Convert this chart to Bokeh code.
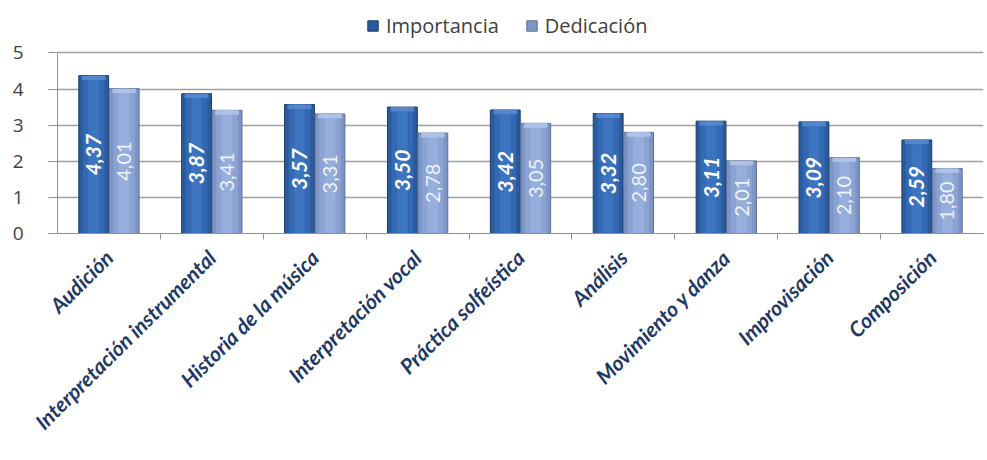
import math
from bokeh.plotting import figure
from bokeh.models import Range1d, FixedTicker, Legend, LegendItem, ColumnDataSource
from bokeh.core.properties import value
from bokeh.embed import file_html
from bokeh.resources import INLINE

categories = ["Audición", "Interpretación instrumental", "Historia de la música",
              "Interpretación vocal", "Práctica solfeística", "Análisis",
              "Movimiento y danza", "Improvisación", "Composición"]
importancia = [4.37, 3.87, 3.57, 3.50, 3.42, 3.32, 3.11, 3.09, 2.59]
dedicacion = [4.01, 3.41, 3.31, 2.78, 3.05, 2.80, 2.01, 2.10, 1.80]
y_ticks = [0, 1, 2, 3, 4, 5]

FONT = "Open Sans"
LFONT = "Lato"
n = len(categories)
centers = [i + 0.5 for i in range(n)]
off = 0.148
bw = 0.29

p = figure(width=985, height=458, output_backend="svg", toolbar_location=None,
           x_range=Range1d(0, n), y_range=Range1d(0, 6.34),
           min_border_left=57, min_border_right=2, min_border_top=4, min_border_bottom=225)
p.outline_line_color = None
p.background_fill_color = "white"
p.border_fill_color = "white"

src = ColumnDataSource(dict(
    xi=[c - off for c in centers], xd=[c + off for c in centers],
    imp=importancia, ded=dedicacion,
    imp_cap=[v - 0.12 for v in importancia], ded_cap=[v - 0.12 for v in dedicacion],
    imp_half=[v / 2 for v in importancia], ded_half=[v / 2 for v in dedicacion],
    imp_lbl=[f"{v:.2f}".replace(".", ",") for v in importancia],
    ded_lbl=[f"{v:.2f}".replace(".", ",") for v in dedicacion],
))

# Grid
p.xgrid.visible = False
p.ygrid.ticker = FixedTicker(ticks=y_ticks)
p.ygrid.grid_line_color = "#A0A0A0"
p.ygrid.grid_line_width = 1.5

# Importancia bars (layered for a cylinder-like shading)
r_imp = p.vbar(x="xi", top="imp", width=bw, bottom=0, source=src,
               fill_color="#2A5B9C", line_color="#1B3A66", line_width=1)
p.vbar(x="xi", top="imp", width=bw * 0.72, bottom=0, source=src,
       fill_color="#3368B2", line_color=None)
p.vbar(x="xi", top="imp", width=bw * 0.36, bottom=0, source=src,
       fill_color="#3C74C0", line_color=None)
p.vbar(x="xi", top="imp", width=bw * 0.8, bottom="imp_cap", source=src,
       fill_color="#5A8CD0", line_color=None, fill_alpha=0.8)
# Dedicación bars
r_ded = p.vbar(x="xd", top="ded", width=bw, bottom=0, source=src,
               fill_color="#7D95C4", line_color="#5A6F99", line_width=1)
p.vbar(x="xd", top="ded", width=bw * 0.72, bottom=0, source=src,
       fill_color="#8BA3D2", line_color=None)
p.vbar(x="xd", top="ded", width=bw * 0.36, bottom=0, source=src,
       fill_color="#96AEDB", line_color=None)
p.vbar(x="xd", top="ded", width=bw * 0.8, bottom="ded_cap", source=src,
       fill_color="#B4C8EA", line_color=None, fill_alpha=0.8)

# Value labels
p.text(x="xi", y="imp_half", text="imp_lbl", source=src, angle=math.pi / 2,
       text_align="center", text_baseline="middle", text_color="white",
       text_font=value(LFONT), text_font_style="bold italic", text_font_size="21px")
p.text(x="xd", y="ded_half", text="ded_lbl", source=src, angle=math.pi / 2,
       text_align="center", text_baseline="middle", text_color="#EEF2FA",
       text_font=value(LFONT), text_font_style="normal", text_font_size="20px")

# Y axis
p.yaxis.ticker = FixedTicker(ticks=y_ticks)
p.yaxis.bounds = (0, 5)
p.yaxis.axis_line_color = "#909090"
p.yaxis.major_tick_line_color = "#909090"
p.yaxis.major_tick_out = 9
p.yaxis.major_tick_in = 0
p.yaxis.minor_tick_line_color = None
p.yaxis.major_label_standoff = 25
p.yaxis.major_label_text_font = FONT
p.yaxis.major_label_text_font_size = "19px"
p.yaxis.major_label_text_color = "#404040"

# X axis: category labels at centers, small ticks at boundaries
p.xaxis.ticker = FixedTicker(ticks=centers, minor_ticks=list(range(1, n)))
p.xaxis.major_label_overrides = {c: lab for c, lab in zip(centers, categories)}
p.xaxis.major_label_orientation = 0.78
p.xaxis.major_label_standoff = 14
p.xaxis.major_label_text_font = LFONT
p.xaxis.major_label_text_font_style = "bold italic"
p.xaxis.major_label_text_font_size = "21px"
p.xaxis.major_label_text_color = "#1F3864"
p.xaxis.major_tick_line_color = None
p.xaxis.minor_tick_line_color = "#909090"
p.xaxis.minor_tick_out = 6
p.xaxis.minor_tick_in = 0
p.xaxis.axis_line_color = "#909090"

legend = Legend(items=[LegendItem(label="Importancia", renderers=[r_imp]),
                       LegendItem(label="Dedicación", renderers=[r_ded])],
                orientation="horizontal", location=(309, 194),
                label_text_font=FONT, label_text_font_size="20px",
                label_text_color="#404040", glyph_width=13, glyph_height=13,
                spacing=26, label_standoff=7, border_line_color=None,
                background_fill_alpha=0, padding=2, margin=0)
p.add_layout(legend, "center")

open("out.html", "w").write(file_html(p, INLINE))
